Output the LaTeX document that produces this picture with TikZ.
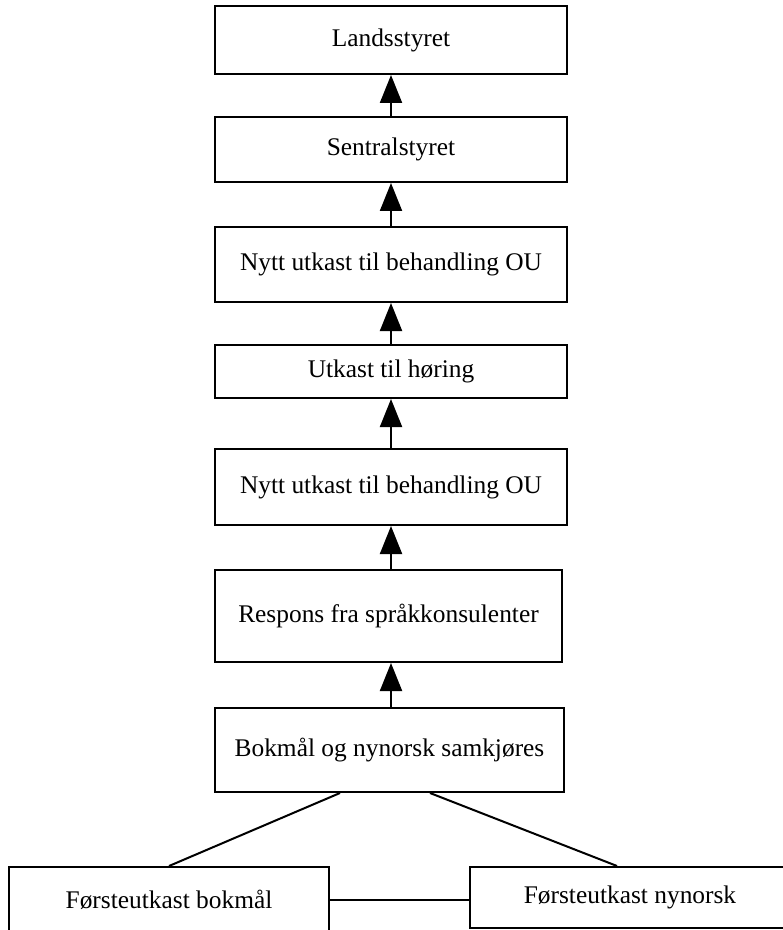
\documentclass[tikz,border=0pt]{standalone}
\usepackage{fontspec}
\setmainfont{Liberation Serif}
\usepackage{tikz}
\usetikzlibrary{calc,positioning,arrows.meta,shapes}
\tikzset{
    >={Triangle[width=11pt,length=14pt]},
    stegboks/.style={
        rectangle,
        draw=black, line width=1pt,
        fill=white,
        minimum width=176pt,
        text centered,
        inner sep=0pt
    },
    utkastboks/.style={
        stegboks,
        minimum width=160pt
    },
    pil/.style={draw, line width=1pt, ->},
    linje/.style={draw, line width=1pt},
    font={\fontsize{12.7pt}{15pt}\selectfont},
}
\begin{document}
\begin{tikzpicture}
[
    x=0.5pt, y=-0.5pt,
]
\useasboundingbox (0,0) rectangle (782,930);
\node(land) at (391, 40)[stegboks, minimum height=34pt]{Landsstyret};
\node(sentral) at (391, 149.5)[stegboks, minimum height=32.5pt]{Sentralstyret};
\node(nytt1) at (391, 264.5)[stegboks, minimum height=37.5pt]{Nytt utkast til behandling OU};
\node(horing) at (391, 371.5)[stegboks, minimum height=26.5pt]{Utkast til høring};
\node(nytt2) at (391, 487)[stegboks, minimum height=38pt]{Nytt utkast til behandling OU};
\node(respons) at (388.5, 616)[stegboks, minimum width=173.5pt, minimum height=46pt]{Respons fra språkkonsulenter};
\node(samkjor) at (389.5, 750)[stegboks, minimum width=174.5pt, minimum height=42pt]{Bokmål og nynorsk samkjøres};
% foersteutkast
\node(bokmaal) at (169, 899.5)[utkastboks, minimum height=32.5pt]{Førsteutkast bokmål};
\node(nynorsk) at (630, 897.5)[utkastboks, minimum height=30.5pt]{Førsteutkast nynorsk};
\draw[pil] (sentral.north -| land.south) -- (land.south);
\draw[pil] (nytt1.north -| sentral.south) -- (sentral.south);
\draw[pil] (horing.north -| nytt1.south) -- (nytt1.south);
\draw[pil] (nytt2.north -| horing.south) -- (horing.south);
\draw[pil] (respons.north -| nytt2.south) -- (nytt2.south);
\draw[pil] (samkjor.north -| nytt2.south) -- (respons.south -| nytt2.south);
\draw[linje] (bokmaal.north) -- ($(samkjor.south)+(-49.5,0)$);
\draw[linje] ($(nynorsk.north)+(-13,0)$) -- ($(samkjor.south)+(40.5,0)$);
\draw[linje] (bokmaal.east) -- (bokmaal.east -| nynorsk.west);
\end{tikzpicture}
\end{document}
